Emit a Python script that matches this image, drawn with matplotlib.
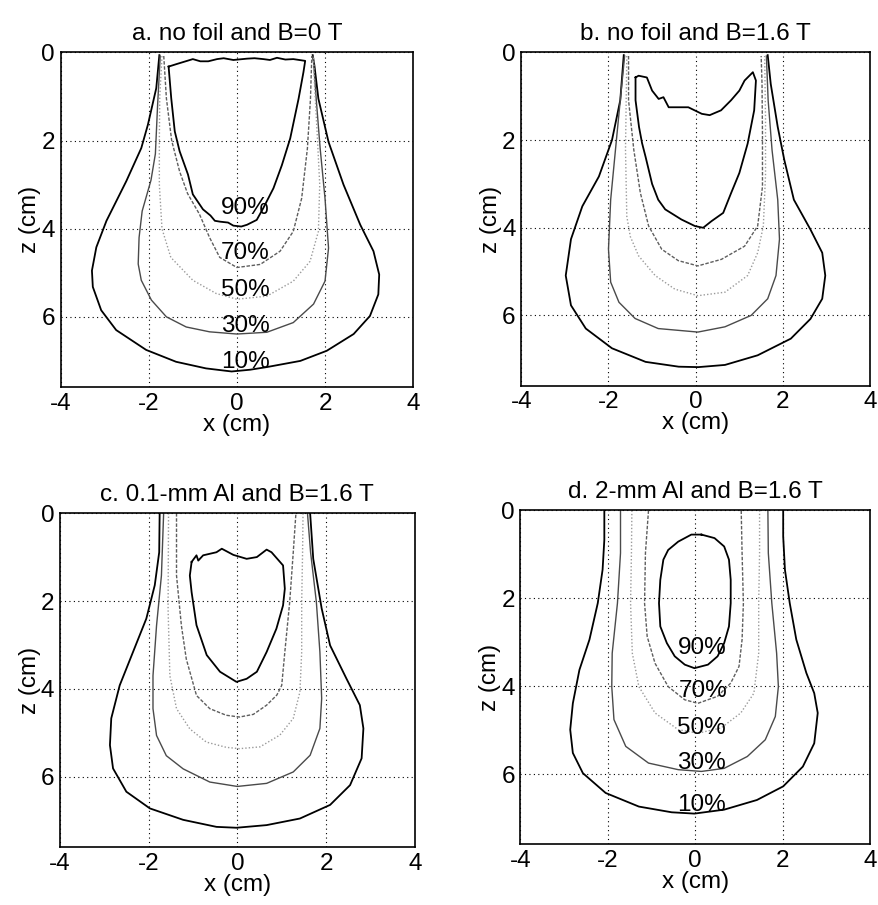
import numpy as np
import matplotlib
matplotlib.use('Agg')
import matplotlib.pyplot as plt

plt.rcParams['font.family'] = ['Liberation Sans', 'DejaVu Sans']
plt.rcParams['font.size'] = 17.5
plt.rcParams['axes.unicode_minus'] = False

# isodose lines, (x, z) in cm
# a. no foil, B=0 T
a10 = [(-1.76, 0.06), (-1.83, 0.81), (-2.02, 1.64), (-2.17, 2.17), (-2.51, 2.92), (-2.96, 3.82),
       (-3.19, 4.42), (-3.29, 4.95), (-3.27, 5.32), (-3.08, 5.85), (-2.74, 6.3), (-2.06, 6.75),
       (-1.38, 7.02), (-0.7, 7.17), (-0.12, 7.24), (0.3, 7.2), (0.68, 7.14), (1.44, 7.0),
       (2.04, 6.77), (2.65, 6.39), (3.02, 5.98), (3.21, 5.49), (3.23, 5.04), (3.1, 4.51),
       (2.8, 3.91), (2.42, 3.0), (2.08, 2.03), (1.85, 1.05), (1.76, 0.3), (1.72, 0.06)]
a30 = [(-1.74, 0.08), (-1.8, 1.2), (-1.85, 2.3), (-1.95, 2.9), (-2.15, 3.6), (-2.22, 4.2),
       (-2.24, 4.8), (-2.17, 5.17), (-1.94, 5.62), (-1.6, 6.0), (-1.15, 6.23), (-0.62, 6.34),
       (0.0, 6.39), (0.68, 6.35), (1.28, 6.13), (1.74, 5.71), (2.0, 5.19), (2.08, 4.44),
       (2.0, 3.31), (1.89, 2.18), (1.8, 1.05), (1.73, 0.08)]
a50 = [(-1.7, 0.08), (-1.75, 1.0), (-1.76, 2.0), (-1.76, 3.0), (-1.7, 4.0), (-1.5, 4.65),
       (-1.0, 5.17), (-0.47, 5.47), (0.0, 5.6), (0.68, 5.53), (1.28, 5.19), (1.66, 4.74),
       (1.85, 4.06), (1.88, 3.0), (1.82, 1.8), (1.76, 0.68), (1.74, 0.08)]
a70 = [(-1.66, 0.08), (-1.6, 1.04), (-1.48, 2.0), (-1.3, 2.7), (-1.12, 3.2), (-0.85, 3.67),
       (-0.62, 4.2), (-0.39, 4.65), (0.0, 4.88), (0.53, 4.81), (0.98, 4.51), (1.28, 4.06),
       (1.47, 3.31), (1.6, 2.18), (1.67, 1.05), (1.7, 0.08)]
a90 = [(-1.55, 0.32), (-1.49, 1.04), (-1.41, 1.79), (-1.3, 2.24), (-1.11, 2.77), (-1.0, 3.22),
       (-0.77, 3.56), (-0.6, 3.7), (-0.5, 3.82), (-0.38, 3.84), (-0.2, 3.86), (-0.08, 3.93),
       (0.1, 3.95), (0.23, 3.91), (0.45, 3.8), (0.6, 3.53), (0.83, 3.08), (1.02, 2.56),
       (1.21, 1.95), (1.4, 1.05), (1.51, 0.45), (1.55, 0.19), (1.28, 0.15), (1.1, 0.16),
       (0.91, 0.12), (0.75, 0.17), (0.6, 0.15), (0.4, 0.13), (0.23, 0.14), (-0.08, 0.17),
       (-0.3, 0.13), (-0.45, 0.15), (-0.65, 0.2), (-0.83, 0.2), (-1.0, 0.15), (-1.13, 0.19),
       (-1.36, 0.26), (-1.55, 0.32)]

# b. no foil, B=1.6 T
b10 = [(-1.65, 0.06), (-1.73, 1.09), (-1.92, 2.0), (-2.22, 2.83), (-2.6, 3.51), (-2.86, 4.26),
       (-2.98, 5.09), (-2.86, 5.77), (-2.52, 6.3), (-1.92, 6.75), (-1.15, 7.06), (-0.39, 7.17),
       (0.06, 7.18), (0.67, 7.13), (1.42, 6.91), (2.18, 6.53), (2.63, 6.08), (2.9, 5.62),
       (2.97, 5.09), (2.9, 4.57), (2.63, 4.04), (2.25, 3.36), (2.03, 2.45), (1.88, 1.7),
       (1.72, 0.72), (1.65, 0.06)]
b30 = [(-1.63, 0.08), (-1.73, 1.09), (-1.84, 2.22), (-1.95, 3.36), (-2.0, 4.49), (-1.95, 5.24),
       (-1.76, 5.7), (-1.39, 6.07), (-0.86, 6.3), (0.05, 6.38), (0.67, 6.26), (1.27, 6.0),
       (1.65, 5.62), (1.84, 5.09), (1.92, 4.26), (1.88, 3.36), (1.75, 2.23), (1.66, 1.09),
       (1.62, 0.08)]
b50 = [(-1.58, 0.08), (-1.61, 2.22), (-1.58, 3.74), (-1.5, 4.2), (-1.31, 4.64), (-0.93, 5.09),
       (-0.48, 5.4), (0.05, 5.55), (0.67, 5.47), (1.19, 5.09), (1.42, 4.57), (1.55, 3.96),
       (1.6, 2.8), (1.6, 1.5), (1.58, 0.08)]
b70 = [(-1.54, 0.08), (-1.54, 1.09), (-1.42, 2.22), (-1.27, 3.2), (-1.08, 3.96), (-0.78, 4.49),
       (-0.4, 4.75), (0.05, 4.87), (0.59, 4.72), (1.12, 4.42), (1.42, 3.96), (1.53, 3.06),
       (1.53, 1.85), (1.52, 0.72), (1.5, 0.08)]
b90 = [(-1.38, 0.57), (-1.31, 0.53), (-1.12, 0.57), (-1.0, 0.87), (-0.85, 1.06), (-0.74, 1.02),
       (-0.62, 1.25), (-0.4, 1.25), (-0.17, 1.25), (0.14, 1.4), (0.32, 1.43), (0.58, 1.32),
       (0.81, 1.09), (1.0, 0.87), (1.12, 0.64), (1.31, 0.45), (1.38, 0.64), (1.34, 1.32),
       (1.19, 2.08), (1.0, 2.75), (0.81, 3.21), (0.63, 3.66), (0.36, 3.85), (0.17, 4.0),
       (-0.02, 3.96), (-0.33, 3.81), (-0.7, 3.58), (-0.86, 3.36), (-1.0, 3.0), (-1.15, 2.38),
       (-1.23, 2.07), (-1.3, 1.7), (-1.38, 1.09), (-1.38, 0.57)]

# c. 0.1-mm Al, B=1.6 T
c10 = [(-1.75, 0.0), (-1.76, 0.89), (-1.86, 1.64), (-2.05, 2.4), (-2.35, 3.16), (-2.65, 3.92),
       (-2.84, 4.67), (-2.87, 5.28), (-2.8, 5.81), (-2.5, 6.34), (-1.97, 6.72), (-1.22, 6.98),
       (-0.47, 7.14), (-0.02, 7.16), (0.66, 7.1), (1.41, 6.95), (2.09, 6.64), (2.54, 6.19),
       (2.8, 5.58), (2.84, 4.9), (2.76, 4.37), (2.46, 3.77), (2.09, 3.01), (1.9, 2.17),
       (1.71, 1.04), (1.64, 0.0)]
c30 = [(-1.66, 0.0), (-1.71, 1.42), (-1.82, 2.56), (-1.9, 3.7), (-1.9, 4.45), (-1.82, 5.06),
       (-1.6, 5.52), (-1.22, 5.82), (-0.62, 6.12), (0.0, 6.22), (0.66, 6.15), (1.26, 5.89),
       (1.64, 5.51), (1.86, 4.9), (1.9, 4.22), (1.86, 3.16), (1.78, 2.02), (1.65, 0.89),
       (1.58, 0.0)]
c50 = [(-1.55, 0.0), (-1.56, 2.18), (-1.52, 3.7), (-1.37, 4.45), (-1.07, 4.91), (-0.7, 5.21),
       (-0.25, 5.33), (0.05, 5.36), (0.51, 5.32), (0.96, 5.05), (1.26, 4.67), (1.41, 4.07),
       (1.45, 3.16), (1.45, 2.02), (1.47, 0.89), (1.48, 0.0)]
c70 = [(-1.37, 0.0), (-1.37, 1.42), (-1.26, 2.56), (-1.15, 3.32), (-0.92, 4.15), (-0.62, 4.45),
       (-0.25, 4.6), (0.05, 4.64), (0.36, 4.58), (0.66, 4.37), (0.89, 4.14), (1.0, 3.92),
       (1.07, 3.16), (1.18, 2.02), (1.26, 0.89), (1.32, 0.0)]
c90 = [(-1.03, 1.11), (-0.92, 0.96), (-0.88, 1.08), (-0.77, 0.96), (-0.47, 0.89), (-0.35, 0.81),
       (-0.09, 0.95), (0.21, 1.04), (0.44, 1.0), (0.66, 0.83), (0.77, 0.89), (1.03, 1.19),
       (1.07, 1.72), (1.03, 2.1), (0.88, 2.63), (0.66, 3.16), (0.44, 3.61), (0.21, 3.77),
       (-0.02, 3.84), (-0.39, 3.61), (-0.69, 3.23), (-0.92, 2.55), (-1.03, 1.8), (-1.07, 1.42),
       (-1.03, 1.11)]

# d. 2-mm Al, B=1.6 T
d10 = [(-2.08, 0.0), (-2.08, 0.67), (-2.12, 1.35), (-2.23, 2.11), (-2.42, 2.94), (-2.65, 3.63),
       (-2.8, 4.39), (-2.86, 4.99), (-2.8, 5.52), (-2.57, 5.98), (-2.05, 6.43), (-1.29, 6.74),
       (-0.54, 6.87), (-0.02, 6.9), (0.66, 6.81), (1.41, 6.59), (2.01, 6.28), (2.46, 5.83),
       (2.72, 5.3), (2.8, 4.61), (2.72, 4.16), (2.54, 3.7), (2.31, 2.94), (2.16, 2.11),
       (2.05, 1.35), (2.01, 0.59), (2.01, 0.0)]
d30 = [(-1.71, 0.0), (-1.71, 0.97), (-1.78, 2.11), (-1.9, 3.25), (-1.91, 4.01), (-1.86, 4.76),
       (-1.59, 5.37), (-1.07, 5.75), (-0.39, 5.9), (0.14, 5.94), (0.66, 5.87), (1.19, 5.6),
       (1.6, 5.22), (1.83, 4.69), (1.9, 4.01), (1.86, 3.25), (1.75, 2.11), (1.67, 0.97),
       (1.66, 0.0)]
d50 = [(-1.45, 0.0), (-1.46, 0.97), (-1.48, 2.11), (-1.44, 3.25), (-1.29, 4.01), (-0.92, 4.61),
       (-0.39, 4.99), (0.06, 5.07), (0.59, 4.95), (1.04, 4.61), (1.34, 4.16), (1.45, 3.25),
       (1.45, 2.11), (1.47, 0.97), (1.47, 0.0)]
d70 = [(-1.07, 0.0), (-1.14, 0.97), (-1.16, 2.11), (-1.1, 2.87), (-0.92, 3.48), (-0.62, 4.01),
       (-0.24, 4.31), (0.06, 4.39), (0.51, 4.23), (0.81, 3.93), (1.0, 3.55), (1.07, 2.94),
       (1.1, 2.11), (1.07, 0.97), (1.05, 0.0)]
d90 = [(0.14, 0.55), (-0.09, 0.55), (-0.39, 0.71), (-0.62, 0.9), (-0.73, 1.12), (-0.8, 1.58),
       (-0.83, 2.11), (-0.8, 2.64), (-0.65, 3.02), (-0.47, 3.32), (-0.24, 3.51), (-0.02, 3.59),
       (0.29, 3.51), (0.51, 3.32), (0.66, 3.02), (0.77, 2.64), (0.81, 2.11), (0.81, 1.58),
       (0.77, 1.12), (0.66, 0.82), (0.44, 0.63), (0.14, 0.55)]

levels = [10, 30, 50, 70, 90]
titles = ['a. no foil and B=0 T', 'b. no foil and B=1.6 T',
          'c. 0.1-mm Al and B=1.6 T', 'd. 2-mm Al and B=1.6 T']
# label anchors (x, z) for panels a and d
a_label_pos = [(0.19, 7.03), (0.19, 6.2), (0.19, 5.4), (0.19, 4.55), (0.19, 3.53)]
d_label_pos = [(0.14, 6.7), (0.14, 5.75), (0.14, 4.95), (0.17, 4.12), (0.17, 3.13)]

styles = {
    10: dict(color='black', lw=1.3, ls='-'),
    30: dict(color='#4a4a4a', lw=1.0, ls='-'),
    50: dict(color='#9a9a9a', lw=1.0, ls=(0, (1, 1.5))),
    70: dict(color='#5e5e5e', lw=1.0, ls=(0, (2.5, 1.2))),
    90: dict(color='black', lw=1.3, ls='-'),
}


def draw_panel(ax, curves, title, label_pos=None):
    for lev, pts in zip(levels, curves):
        pts = np.array(pts)
        ax.plot(pts[:, 0], pts[:, 1], **styles[lev])
    if label_pos is not None:
        for lev, (x, z) in zip(levels, label_pos):
            ax.text(x, z, '%d%%' % lev, ha='center', va='center', fontsize=17.5)
    ax.set_xlim(-4, 4)
    ax.set_ylim(7.6, 0)
    ax.set_xticks([-4, -2, 0, 2, 4])
    ax.set_yticks([0, 2, 4, 6])
    ax.grid(True, color='black', ls=(0, (1, 3)), lw=0.8)
    ax.tick_params(direction='in', length=0, pad=4, labelsize=17.5)
    for s in ax.spines.values():
        s.set_linewidth(1.2)
    ax.set_xlabel('x (cm)', fontsize=17.5, labelpad=-0.5)
    ax.set_ylabel('z (cm)', fontsize=17.5, labelpad=0)
    ax.set_title(title, fontsize=17.5, pad=9)


fig = plt.figure(figsize=(8.79, 9.05), dpi=100)
boxes = [(0.069, 0.572, 0.401, 0.370), (0.593, 0.574, 0.397, 0.368),
         (0.068, 0.064, 0.404, 0.369), (0.592, 0.067, 0.398, 0.369)]
panels = [[a10, a30, a50, a70, a90], [b10, b30, b50, b70, b90],
          [c10, c30, c50, c70, c90], [d10, d30, d50, d70, d90]]
label_sets = [a_label_pos, None, None, d_label_pos]

for box, curves, title, lab in zip(boxes, panels, titles, label_sets):
    ax = fig.add_axes(box)
    draw_panel(ax, curves, title, lab)

fig.savefig('out.png', dpi=100)
